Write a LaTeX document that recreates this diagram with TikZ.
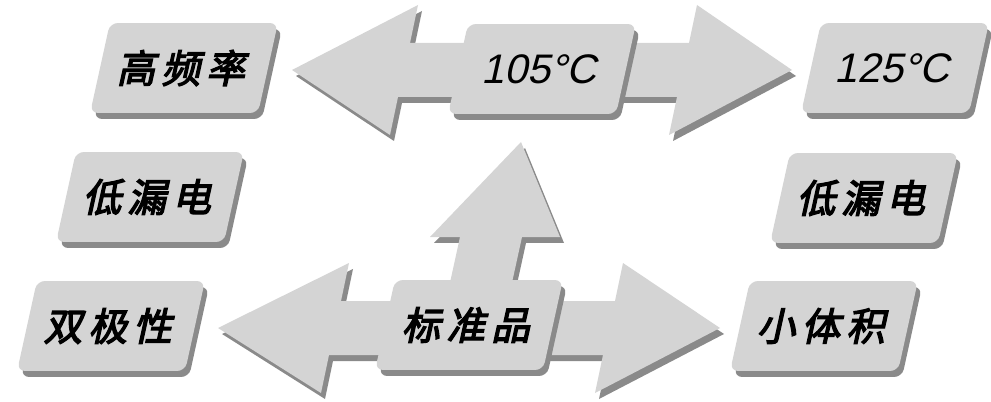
\documentclass[tikz,border=0pt]{standalone}
\usepackage{fontspec}
\setmainfont{Liberation Sans}
\newfontfamily\cjk{Noto Sans CJK SC}[FakeBold=3.5, LetterSpace=16]
\usepackage{tikz}
\usetikzlibrary{shadows}

\definecolor{boxgray}{RGB}{212,212,212}
\definecolor{shadegray}{RGB}{138,138,138}

\tikzset{
  shade/.style={drop shadow={shadow xshift=0.08cm, shadow yshift=-0.12cm, fill=shadegray, opacity=1}},
  box/.style={fill=boxgray, shade, rounded corners=4.5pt, minimum width=3.36cm, minimum height=1.8cm,
    inner sep=0pt, xslant=0.22, font=\cjk\fontsize{22}{22}\selectfont},
  temp/.style={box, font=\fontsize{23.5}{23.5}\selectfont},
  bigarrow/.style={fill=boxgray, shade}
}

\begin{document}
\begin{tikzpicture}[x=0.02cm, y=-0.02cm]
    \useasboundingbox (0,0) rectangle (991,402);
    \fill[bigarrow] (292,70) -- (418,5) -- (410,43) -- (689,43) -- (697,5) -- (792,70)
        -- (669,135) -- (677,97) -- (398,97) -- (390,135) -- cycle;
    \fill[bigarrow] (444,310) -- (460,237) -- (430,237) -- (521,142) -- (560,237) -- (522,237) -- (506,310) -- cycle;
    \fill[bigarrow] (218,328) -- (349,263) -- (341,301) -- (615,301) -- (623,263) -- (720,328)
        -- (595,393) -- (603,355) -- (329,355) -- (321,393) -- cycle;
    \node[box] (gaopin) at (184,68) {高频率};
    \node[box] (loudianL) at (150,197) {低漏电};
    \node[box] (shuangji) at (111,326) {双极性};
    \node[temp] (t105) at (542,69) {105°C};
    \node[box] (biaozhun) at (469,325) {标准品};
    \node[temp] (t125) at (895,68) {125°C};
    \node[box] (loudianR) at (864,198) {低漏电};
    \node[box] (xiaoti) at (824,326) {小体积};
\end{tikzpicture}
\end{document}
